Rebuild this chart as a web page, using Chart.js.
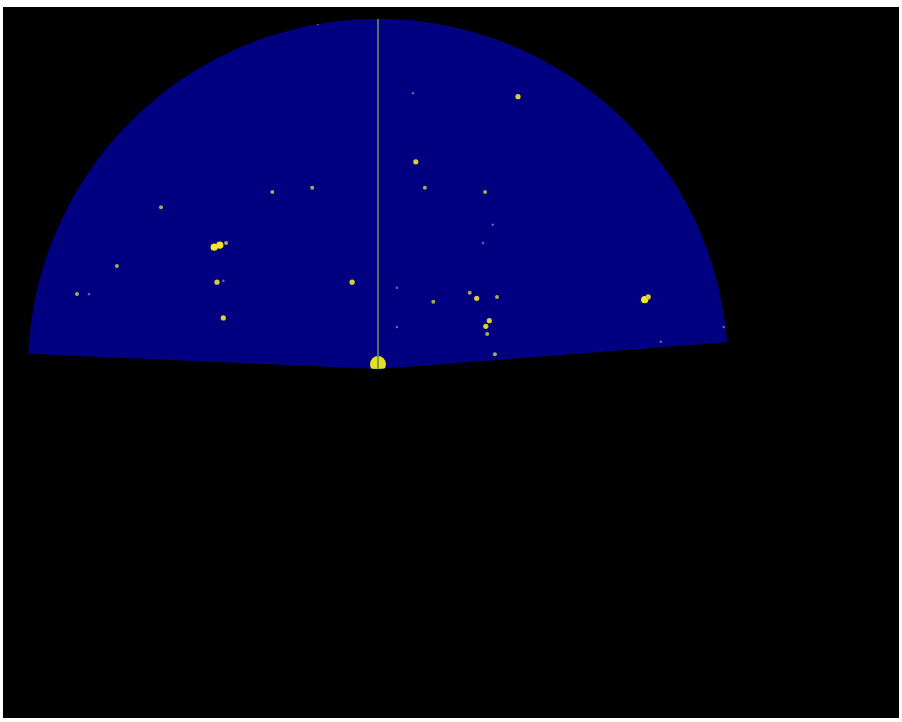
<!DOCTYPE html>
<html>
<head>
<meta charset="utf-8">
<script src="https://cdn.jsdelivr.net/npm/chart.js@4"></script>
<style>
  html, body { margin: 0; padding: 0; background: #fff; }
  #wrap { position: absolute; left: 3px; top: 7px; width: 896px; height: 711px; background: #000; }
</style>
</head>
<body>
<div id="wrap"><canvas id="radar" width="896" height="711"></canvas></div>
<script>
// radar sector (km, degrees from north)
const maxRange = 50;
const sectorStart = -87.5;
const sectorEnd = 85.6;
const sweepAzimuth = 0;

// echoes: east / north offsets in km, and return strength (0 faint .. 4 ground clutter)
const echoX = [20.0, 5.0, 5.4, 6.7, 15.3, -15.1, -9.4, -31.0, -22.6, -21.7, -37.3, -23.0, -22.1, -3.7,
  -43.0, -41.3, -22.1, 7.9, 13.1, 14.1, 17.0, 15.9, 15.4, 15.6, 16.7, 38.1, 49.4, 40.4, 15.0, 16.4,
  2.7, 2.7, -8.6, -23.4, 38.6, 0.0];
const echoY = [38.9, 39.4, 29.6, 25.9, 25.3, 25.3, 25.9, 23.1, 17.7, 18.0, 14.7, 12.4, 12.6, 12.4,
  10.7, 10.7, 7.3, 9.6, 10.9, 10.1, 10.3, 6.9, 6.1, 5.0, 2.1, 9.9, 6.0, 3.9, 18.0, 20.6,
  6.0, 11.6, 49.3, 17.4, 10.3, 0.7];
const echoLevel = [2, 0, 2, 1, 1, 1, 1, 1, 3, 1, 1, 2, 0, 2,
  1, 0, 2, 1, 1, 2, 1, 2, 2, 1, 1, 3, 0, 0, 0, 0,
  0, 0, 0, 3, 2, 4];

const levelColors = ['rgba(110,120,170,0.85)', '#a8a85a', '#d8cf38', '#f2e81a', '#e6e020'];
const levelRadius = [1.3, 2, 2.6, 3.6, 8];

const echoPoints = echoX.map((x, i) => ({ x: x, y: echoY[i], level: echoLevel[i] }));
const sweepPoints = [
  { x: 0, y: 0 },
  { x: maxRange * Math.sin(sweepAzimuth * Math.PI / 180), y: maxRange * Math.cos(sweepAzimuth * Math.PI / 180) }
];

function sectorPath(chart) {
  const ctx = chart.ctx;
  const xs = chart.scales.x, ys = chart.scales.y;
  const cx = xs.getPixelForValue(0), cy = ys.getPixelForValue(0);
  const r = xs.getPixelForValue(maxRange) - cx;
  const a0 = (sectorStart - 90) * Math.PI / 180;
  const a1 = (sectorEnd - 90) * Math.PI / 180;
  ctx.beginPath();
  ctx.moveTo(cx, cy);
  ctx.arc(cx, cy, r, a0, a1, false);
  ctx.closePath();
}

// fill the scanned sector and keep echoes inside it
const sectorPlugin = {
  id: 'sector',
  beforeDatasetsDraw(chart) {
    const ctx = chart.ctx;
    ctx.save();
    sectorPath(chart);
    ctx.fillStyle = '#000080';
    ctx.fill();
    ctx.clip();
  },
  afterDatasetsDraw(chart) {
    chart.ctx.restore();
  }
};

new Chart(document.getElementById('radar'), {
  type: 'scatter',
  data: {
    datasets: [
      {
        label: 'sweep',
        type: 'line',
        data: sweepPoints,
        borderColor: '#5e8f68',
        borderWidth: 1.6,
        pointRadius: 0,
        fill: false
      },
      {
        label: 'echoes',
        data: echoPoints,
        pointRadius: c => levelRadius[c.raw ? c.raw.level : 0],
        backgroundColor: c => levelColors[c.raw ? c.raw.level : 0],
        pointBorderWidth: 0,
        borderWidth: 0
      }
    ]
  },
  options: {
    responsive: false,
    animation: false,
    layout: { padding: 0, autoPadding: false },
    scales: {
      x: { type: 'linear', display: false, min: -375 / 7, max: 521 / 7 },
      y: { type: 'linear', display: false, min: -349 / 7, max: 362 / 7 }
    },
    plugins: {
      legend: { display: false },
      tooltip: { enabled: false }
    }
  },
  plugins: [sectorPlugin]
});
</script>
</body>
</html>
